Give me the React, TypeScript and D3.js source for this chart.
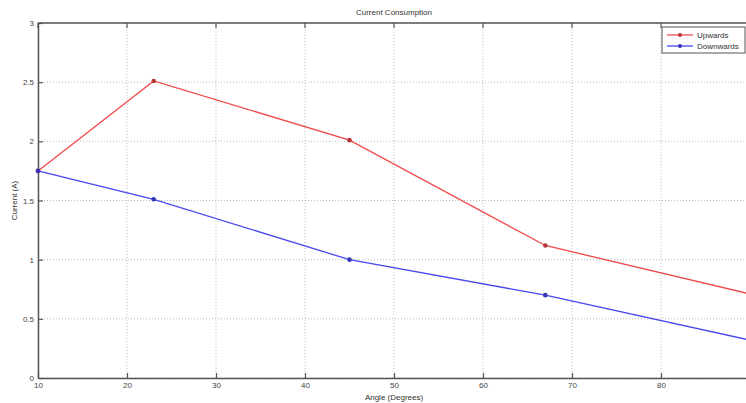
import { useEffect, useRef } from "react";
import * as d3 from "d3";

const angles = [10, 23, 45, 67, 90];
const upwards = [1.75, 2.51, 2.01, 1.12, 0.71];
const downwards = [1.75, 1.51, 1.0, 0.7, 0.32];
const xTicks = [10, 20, 30, 40, 50, 60, 70, 80, 90];
const yTicks = [0, 0.5, 1, 1.5, 2, 2.5, 3];

const W = 746;
const H = 403;
const margin = { left: 38, right: -4, top: 23, bottom: 25 };

const series = [
  { name: "Upwards", values: upwards, color: "#f04848" },
  { name: "Downwards", values: downwards, color: "#4848f0" },
];

const App = () => {
  const ref = useRef<SVGSVGElement | null>(null);

  useEffect(() => {
    if (!ref.current) return;
    const svg = d3.select(ref.current);
    svg.selectAll("*").remove();

    const x = d3.scaleLinear().domain([10, 90]).range([margin.left, W - margin.right]);
    const y = d3.scaleLinear().domain([0, 3]).range([H - margin.bottom, margin.top]);
    const font = "Liberation Sans, Arial, sans-serif";
    const axisColor = "#555";

    // grid
    const grid = svg.append("g").attr("stroke", "#aaa").attr("stroke-width", 0.8).attr("stroke-dasharray", "1,2");
    xTicks.forEach((t) => {
      grid.append("line").attr("x1", x(t)).attr("x2", x(t)).attr("y1", y(0)).attr("y2", y(3));
    });
    yTicks.forEach((t) => {
      grid.append("line").attr("x1", x(10)).attr("x2", x(90)).attr("y1", y(t)).attr("y2", y(t));
    });

    // axes, MATLAB style ticks pointing in
    const gx = svg.append("g").attr("transform", `translate(0,${y(0)})`)
      .call(d3.axisBottom(x).tickValues(xTicks).tickSizeInner(-5).tickSizeOuter(0).tickPadding(4));
    const gy = svg.append("g").attr("transform", `translate(${x(10)},0)`)
      .call(d3.axisLeft(y).tickValues(yTicks).tickSizeInner(-5).tickSizeOuter(0).tickPadding(4).tickFormat(d3.format("")));
    [gx, gy].forEach((g) => {
      g.select(".domain").attr("stroke", axisColor).attr("stroke-width", 1.5);
      g.selectAll(".tick line").attr("stroke", axisColor).attr("stroke-width", 1.2);
      g.selectAll(".tick text").attr("fill", "#444").attr("font-size", 8).attr("font-family", font);
    });
    // top and right box
    svg.append("line").attr("x1", x(10)).attr("x2", x(90)).attr("y1", y(3)).attr("y2", y(3))
      .attr("stroke", axisColor).attr("stroke-width", 1.5);
    xTicks.forEach((t) => {
      svg.append("line").attr("x1", x(t)).attr("x2", x(t)).attr("y1", y(3)).attr("y2", y(3) + 5)
        .attr("stroke", axisColor).attr("stroke-width", 1.2);
    });

    // lines
    const line = d3.line<number>().x((_, i) => x(angles[i])).y((d) => y(d));
    series.forEach((s) => {
      svg.append("path").datum(s.values).attr("d", line).attr("fill", "none")
        .attr("stroke", s.color).attr("stroke-width", 1.3);
      svg.append("g").selectAll("circle").data(s.values).join("circle")
        .attr("cx", (_, i) => x(angles[i])).attr("cy", (d) => y(d)).attr("r", 2.3)
        .attr("fill", d3.color(s.color)!.darker(0.8).toString());
    });

    // titles
    svg.append("text").attr("x", (x(10) + x(90)) / 2).attr("y", 15).attr("text-anchor", "middle")
      .attr("font-size", 8).attr("font-family", font).attr("fill", "#333").text("Current Consumption");
    svg.append("text").attr("x", (x(10) + x(90)) / 2).attr("y", 400).attr("text-anchor", "middle")
      .attr("font-size", 8).attr("font-family", font).attr("fill", "#333").text("Angle (Degrees)");
    svg.append("text").attr("transform", `translate(17,${(y(0) + y(3)) / 2}) rotate(-90)`)
      .attr("text-anchor", "middle").attr("font-size", 8).attr("font-family", font).attr("fill", "#333")
      .text("Current (A)");

    // legend
    const lg = svg.append("g").attr("transform", "translate(662,27)");
    lg.append("rect").attr("width", 83).attr("height", 26).attr("fill", "#fff")
      .attr("stroke", "#555").attr("stroke-width", 1);
    series.forEach((s, i) => {
      const ly = 8 + i * 11;
      lg.append("line").attr("x1", 5).attr("x2", 31).attr("y1", ly).attr("y2", ly)
        .attr("stroke", s.color).attr("stroke-width", 1.3);
      lg.append("circle").attr("cx", 18).attr("cy", ly).attr("r", 2)
        .attr("fill", d3.color(s.color)!.darker(0.8).toString());
      lg.append("text").attr("x", 35).attr("y", ly + 3).attr("font-size", 8).attr("font-family", font)
        .attr("fill", "#333").text(s.name);
    });
  }, []);

  return (
    <svg ref={ref} width={W} height={H}
      style={{ position: "absolute", left: 0, top: 0, background: "#fff" }} />
  );
};

export default App;
